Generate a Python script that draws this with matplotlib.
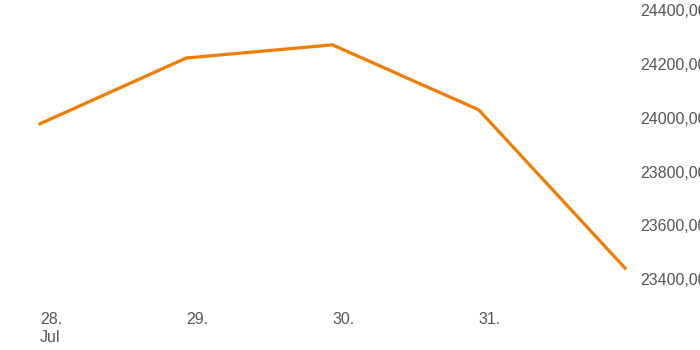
import matplotlib
matplotlib.use("Agg")
import matplotlib.pyplot as plt
import numpy as np

dates = ["2024-07-28", "2024-07-29", "2024-07-30", "2024-07-31", "2024-08-01"]
values = [23978, 24223, 24272, 24030, 23441]
x_tick_labels = ["28.\nJul", "29.", "30.", "31."]
y_ticks = [23400, 23600, 23800, 24000, 24200, 24400]

plt.rcParams['font.family'] = ['Liberation Sans', 'DejaVu Sans']

fig = plt.figure(figsize=(7, 3.5), dpi=100)
ax = fig.add_axes([40/700, 50/350, 585/700, 300/350])

x = np.arange(len(dates))
ax.plot(x, values, color="#f07d00", linewidth=2.3, solid_joinstyle='round', clip_on=False)

ax.set_xlim(0, 4)
ax.set_ylim(23322, 24439)

for s in ax.spines.values():
    s.set_visible(False)

ax.set_xticks(range(len(x_tick_labels)))
ax.set_xticklabels(x_tick_labels, ha='left', va='top', linespacing=1.25)
ax.tick_params(axis='x', length=0, pad=9, labelsize=11.5, labelcolor="#555555")

ax.yaxis.tick_right()
ax.set_yticks(y_ticks)
ax.set_yticklabels([f"{v},00" for v in y_ticks])
ax.tick_params(axis='y', length=0, pad=11, labelsize=11.5, labelcolor="#555555")

fig.savefig("out.png", dpi=100)
